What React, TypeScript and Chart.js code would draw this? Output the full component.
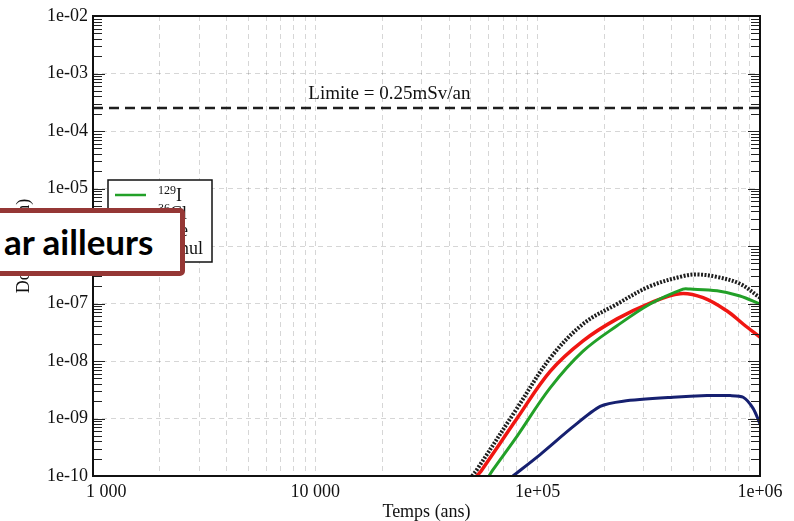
import React, { useEffect, useRef } from 'react';
import { Chart, registerables } from 'chart.js';
Chart.register(...registerables);

// ---- data (years, Sv/an) ----
const timeI129 = [60400, 63000, 80700, 113800, 160000, 227500, 320600, 450800, 485300, 641200, 812800, 1000000];
const doseI129 = [1e-10, 1.29e-10, 4.9e-10, 3.4e-9, 1.48e-8, 4.1e-8, 9.8e-8, 1.78e-7, 1.78e-7, 1.66e-7, 1.35e-7, 9.8e-8];

const timeCl36 = [53300, 56200, 80700, 113800, 160000, 227500, 320600, 436500, 554600, 711200, 839500, 1000000];
const doseCl36 = [1e-10, 1.29e-10, 1.0e-9, 6.6e-9, 2.24e-8, 5.4e-8, 1.02e-7, 1.48e-7, 1.26e-7, 7.4e-8, 4.4e-8, 2.6e-8];

const timeSe79 = [77400, 102600, 144300, 191000, 242300, 406000, 578000, 734000, 840000, 931000, 1000000];
const doseSe79 = [1e-10, 2.36e-10, 7.2e-10, 1.62e-9, 2.0e-9, 2.34e-9, 2.5e-9, 2.5e-9, 2.34e-9, 1.5e-9, 8.1e-10];

const timeCumul = [50700, 53300, 80700, 113800, 160000, 227500, 320600, 450800, 521200, 641200, 812800, 1000000];
const doseCumul = [1e-10, 1.29e-10, 1.5e-9, 1.12e-8, 4.4e-8, 9.8e-8, 2.0e-7, 3.0e-7, 3.2e-7, 2.9e-7, 2.2e-7, 1.26e-7];

const limitTimes = [1000, 1000000];
const limitValue = 2.5e-4;
const limitLabel = 'Limite = 0.25mSv/an';
const limitLabelTime = 9300;
const limitLabelDose = 4.4e-4;

const xTickValues = [1000, 10000, 100000, 1000000];
const xTickLabels = ['1 000', '10 000', '1e+05', '1e+06'];
const yTickValues = [1e-10, 1e-9, 1e-8, 1e-7, 1e-6, 1e-5, 1e-4, 1e-3, 1e-2];
const yTickLabels = ['1e-10', '1e-09', '1e-08', '1e-07', '1e-06', '1e-05', '1e-04', '1e-03', '1e-02'];

const legendSups = ['129', '36', '79', ''];
const legendNames = ['I', 'Cl', 'Se', 'cumul'];

const xTitle = 'Temps (ans)';
const yTitle = 'Dose (Sv/an)';
const overlayText = 'ar ailleurs';

const GREEN = 'rgb(34,160,40)';
const RED = 'rgb(240,22,18)';
const BLUE = 'rgb(22,32,112)';
const BLACK = 'rgb(30,30,30)';
const SERIF = '"Liberation Serif", "DejaVu Serif", serif';

function minorValues(decades: number[]) {
  const out: number[] = [];
  for (let i = 0; i < decades.length - 1; i++) {
    for (let k = 1; k < 10; k++) out.push(decades[i] * k);
  }
  out.push(decades[decades.length - 1]);
  return out;
}

const framePlugin = {
  id: 'frameAndExtras',
  beforeDraw(chart: any) {
    try {
      const xs = chart.scales.x;
      const items = xs.getLabelItems();
      if (items && items.length) {
        const first = items[0];
        first.options.textAlign = 'left';
        first.options.translation = [xs.getPixelForValue(xTickValues[0]) - 7, first.options.translation[1]];
      }
    } catch (e) {}
  },
  afterDatasetsDraw(chart: any) {
    const { ctx, chartArea: a, scales } = chart;
    const ys = scales.y;
    const xs = scales.x;
    ctx.save();
    ctx.strokeStyle = '#222';
    ctx.lineWidth = 1.2;
    const vals = minorValues(yTickValues);
    vals.forEach((v) => {
      const y = Math.round(ys.getPixelForValue(v)) + 0.5;
      const major = yTickValues.includes(v);
      const len = major ? 12 : 9;
      ctx.beginPath();
      ctx.moveTo(a.left, y);
      ctx.lineTo(a.left + len, y);
      ctx.moveTo(a.right, y);
      ctx.lineTo(a.right - len, y);
      ctx.stroke();
    });
    ctx.strokeStyle = '#111';
    ctx.lineWidth = 2;
    ctx.strokeRect(a.left, a.top, a.right - a.left, a.bottom - a.top);

    ctx.fillStyle = '#111';
    ctx.font = '19px ' + SERIF;
    ctx.textAlign = 'left';
    ctx.textBaseline = 'middle';
    ctx.fillText(limitLabel, xs.getPixelForValue(limitLabelTime), ys.getPixelForValue(limitLabelDose));

    const bx = 108, by = 180, bw = 104, bh = 82;
    ctx.fillStyle = '#fff';
    ctx.fillRect(bx, by, bw, bh);
    ctx.strokeStyle = '#111';
    ctx.lineWidth = 1.5;
    ctx.strokeRect(bx, by, bw, bh);
    const colors = [GREEN, RED, BLUE, BLACK];
    legendNames.forEach((name, i) => {
      const ry = by + 15 + i * 17.5;
      ctx.strokeStyle = colors[i];
      ctx.lineWidth = i === 3 ? 3.5 : 2.5;
      ctx.setLineDash(i === 3 ? [2, 1.5] : []);
      ctx.beginPath();
      ctx.moveTo(bx + 7, ry);
      ctx.lineTo(bx + 38, ry);
      ctx.stroke();
      ctx.setLineDash([]);
      let tx = bx + 50;
      ctx.fillStyle = '#111';
      ctx.textBaseline = 'alphabetic';
      if (legendSups[i]) {
        ctx.font = '12px ' + SERIF;
        ctx.fillText(legendSups[i], tx, ry - 1);
        tx += ctx.measureText(legendSups[i]).width;
      }
      ctx.font = '18px ' + SERIF;
      ctx.fillText(name, tx, ry + 6);
    });
    ctx.restore();
  },
};

export default function App() {
  const ref = useRef<HTMLCanvasElement | null>(null);
  useEffect(() => {
    if (!ref.current) return;
    const lineDs = (label: string, xs: number[], ys: number[], color: string, width: number, dash: number[] = [], tension = 0.35) => ({
      label,
      data: xs.map((x, i) => ({ x, y: ys[i] })),
      borderColor: color,
      backgroundColor: color,
      borderWidth: width,
      borderDash: dash,
      pointRadius: 0,
      tension,
      fill: false,
      clip: 0,
    });
    const chart = new Chart(ref.current, {
      type: 'line',
      data: {
        datasets: [
          lineDs('Limite', limitTimes, limitTimes.map(() => limitValue), BLACK, 2.5, [10, 6], 0),
          lineDs('129I', timeI129, doseI129, GREEN, 3),
          lineDs('36Cl', timeCl36, doseCl36, RED, 3.5),
          lineDs('79Se', timeSe79, doseSe79, BLUE, 3, [], 0.25),
          lineDs('cumul', timeCumul, doseCumul, BLACK, 4, [2, 1.5]),
        ],
      },
      options: {
        animation: false,
        responsive: false,
        devicePixelRatio: 1,
        layout: { padding: { left: 0, top: 16, right: 34, bottom: 0 } },
        plugins: { legend: { display: false }, tooltip: { enabled: false }, title: { display: false } },
        scales: {
          x: {
            type: 'logarithmic',
            min: 1000,
            max: 1000000,
            afterBuildTicks: (s: any) => {
              s.ticks = minorValues(xTickValues).map((v) => ({ value: v }));
            },
            afterFit: (s: any) => {
              s.height = 45;
            },
            ticks: {
              autoSkip: false,
              maxRotation: 0,
              padding: 5,
              color: '#111',
              font: { family: SERIF, size: 18 },
              callback: (v: any) => {
                const i = xTickValues.indexOf(Number(v));
                return i >= 0 ? xTickLabels[i] : '';
              },
            },
            grid: {
              drawTicks: false,
              color: 'rgba(0,0,0,0.16)',
              lineWidth: 1,
            },
            border: { display: false, dash: [5, 4] },
            title: {
              display: true,
              text: xTitle,
              color: '#111',
              font: { family: SERIF, size: 18 },
              padding: { top: 0, bottom: -2 },
            },
          },
          y: {
            type: 'logarithmic',
            min: 1e-10,
            max: 1e-2,
            afterBuildTicks: (s: any) => {
              s.ticks = yTickValues.map((v) => ({ value: v }));
            },
            afterFit: (s: any) => {
              s.width = 93;
            },
            ticks: {
              autoSkip: false,
              padding: 5,
              color: '#111',
              font: { family: SERIF, size: 18 },
              callback: (v: any) => {
                const i = yTickValues.findIndex((t) => Math.abs(t - Number(v)) / t < 1e-6);
                return i >= 0 ? yTickLabels[i] : '';
              },
            },
            grid: {
              drawTicks: false,
              color: 'rgba(0,0,0,0.16)',
              lineWidth: 1,
            },
            border: { display: false, dash: [5, 4] },
            title: {
              display: true,
              text: yTitle,
              color: '#111',
              font: { family: SERIF, size: 18 },
              padding: { top: 13, bottom: 0 },
            },
          },
        },
      },
      plugins: [framePlugin],
    } as any);
    return () => chart.destroy();
  }, []);

  return (
    <div style={{ position: 'absolute', left: 0, top: 0, width: 794, height: 521, background: '#fff', overflow: 'hidden' }}>
      <canvas ref={ref} width={794} height={521} style={{ display: 'block' }} />
      <div
        style={{
          position: 'absolute',
          left: -10,
          top: 208,
          width: 195,
          height: 68,
          boxSizing: 'border-box',
          border: '5px solid #953735',
          borderRadius: 5,
          background: '#fff',
          display: 'flex',
          alignItems: 'center',
          paddingLeft: 9,
          paddingBottom: 2,
          fontFamily: 'Lato, "Open Sans", sans-serif',
          fontWeight: 700,
          fontSize: 35,
          color: '#000',
          whiteSpace: 'nowrap',
        }}
      >
        {overlayText}
      </div>
    </div>
  );
}
